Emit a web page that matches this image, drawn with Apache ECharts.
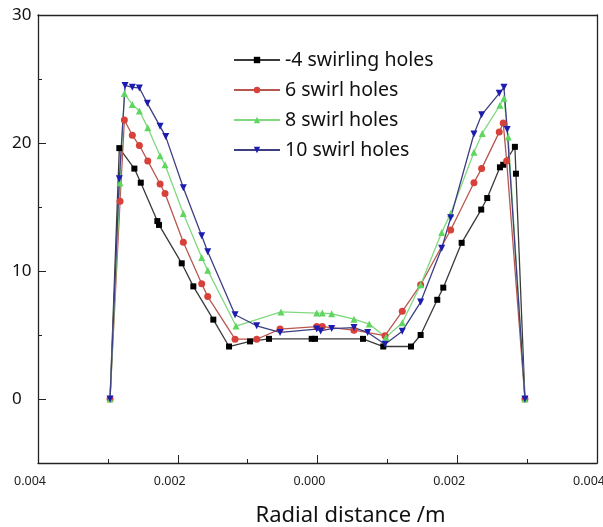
<!DOCTYPE html>
<html>
<head>
<meta charset="utf-8">
<script src="https://cdn.jsdelivr.net/npm/echarts@6/dist/echarts.min.js"></script>
<style>html,body{margin:0;padding:0;background:#fff}#c{width:603px;height:527px}</style>
</head>
<body>
<div id="c"></div>
<script>
// Radial distance (m) and values for each series
const seriesNames = ['-4 swirling holes', '6 swirl holes', '8 swirl holes', '10 swirl holes'];

const x4 = [-0.002969,-0.002836,-0.002621,-0.002529,-0.002292,-0.002268,-0.001943,-0.001777,-0.001491,-0.001266,-0.000966,-0.000694,-0.000083,-0.000036,0.000651,0.000941,0.001338,0.001476,0.001714,0.001800,0.002063,0.002343,0.002429,0.002611,0.002658,0.002825,0.002840,0.002969];
const y4 = [0,19.6,18.0,16.9,13.9,13.6,10.6,8.8,6.2,4.1,4.5,4.7,4.7,4.7,4.7,4.1,4.1,5.0,7.75,8.7,12.2,14.8,15.7,18.1,18.3,19.7,17.6,0];

const x6 = [-0.002969,-0.002826,-0.002764,-0.002650,-0.002549,-0.002429,-0.002253,-0.002182,-0.001920,-0.001657,-0.001571,-0.001180,-0.000870,-0.000536,-0.000011,0.000069,0.000522,0.000966,0.001213,0.001476,0.001906,0.002239,0.002349,0.002601,0.002658,0.002707,0.002969];
const y6 = [0,15.45,21.8,20.6,19.8,18.6,16.8,16.05,12.24,9.0,8.0,4.67,4.67,5.46,5.66,5.66,5.38,4.95,6.85,8.93,13.2,16.9,18.0,20.85,21.56,18.6,0];

const x8 = [-0.002969,-0.002826,-0.002764,-0.002650,-0.002549,-0.002429,-0.002253,-0.002182,-0.001920,-0.001657,-0.001571,-0.001166,-0.000522,-0.000011,0.000069,0.000203,0.000522,0.000741,0.000980,0.001213,0.001476,0.001777,0.001906,0.002239,0.002358,0.002611,0.002668,0.002730,0.002969];
const y8 = [0,16.9,23.86,23.0,22.5,21.2,19.0,18.3,14.5,11.05,10.05,5.7,6.8,6.71,6.71,6.66,6.24,5.85,4.83,5.96,8.93,13.0,14.5,19.27,20.75,22.95,23.5,20.46,0];

const x10 = [-0.002969,-0.002836,-0.002754,-0.002650,-0.002549,-0.002435,-0.002253,-0.002172,-0.001920,-0.001657,-0.001571,-0.001180,-0.000870,-0.000536,-0.000011,0.000046,0.000203,0.000522,0.000718,0.000966,0.001213,0.001476,0.001777,0.001906,0.002239,0.002349,0.002601,0.002668,0.002715,0.002969];
const y10 = [0,17.2,24.5,24.35,24.3,23.1,21.3,20.5,16.5,12.75,11.5,6.58,5.72,5.2,5.46,5.32,5.5,5.58,5.2,4.28,5.3,7.57,11.77,14.16,20.7,22.2,23.88,24.35,21.05,0];

const yLabelValues = [0, 10, 20, 30];
const yMinorValues = [5, 15, 25];

function pairs(xs, ys) { return xs.map((x, i) => [x, ys[i]]); }

const chart = echarts.init(document.getElementById('c'), null, { renderer: 'canvas' });
const font = '"Noto Sans", "Open Sans", sans-serif';
const axisColor = '#222';

function mk(name, xs, ys, symbol, markerColor, lineColor, rotate) {
  return {
    name: name, type: 'line', data: pairs(xs, ys),
    symbol: symbol, symbolSize: symbol === 'rect' ? 6 : 7, symbolRotate: rotate || 0,
    showAllSymbol: true,
    itemStyle: { color: markerColor },
    lineStyle: { color: lineColor, width: 1.3 },
    emphasis: { disabled: true },
    animation: false
  };
}

chart.setOption({
  animation: false,
  grid: { left: 38, right: 6, top: 15, bottom: 64, containLabel: false, outerBoundsMode: 'none' },
  legend: {
    orient: 'vertical', left: 228, top: 45,
    itemWidth: 46, itemHeight: 8, itemGap: 10,
    textStyle: { fontFamily: font, fontSize: 19.5, color: '#111' },
    data: seriesNames
  },
  xAxis: [{
    type: 'value', min: -0.004, max: 0.004, interval: 0.002,
    name: 'Radial distance /m', nameLocation: 'middle', nameGap: 42,
    nameTextStyle: { fontFamily: font, fontSize: 22, color: '#111', padding: [0, 0, 0, 66] },
    axisLine: { show: true, onZero: false, lineStyle: { color: axisColor, width: 1.3 } },
    axisTick: { show: true, inside: true, length: 8, lineStyle: { color: axisColor } },
    minorTick: { show: true, splitNumber: 2, length: 4, lineStyle: { color: axisColor } },
    splitLine: { show: false },
    axisLabel: { fontFamily: font, fontSize: 12.5, color: '#222', margin: 12, padding: [0, 16, 0, 0],
      formatter: v => Math.abs(v).toFixed(3) }
  }, {
    type: 'value', position: 'top', min: -0.004, max: 0.004,
    axisLine: { show: true, onZero: false, lineStyle: { color: axisColor, width: 1.3 } },
    axisTick: { show: false }, axisLabel: { show: false }, splitLine: { show: false }
  }],
  yAxis: [{
    type: 'value', min: -5, max: 30, position: 'left',
    axisLine: { onZero: false, show: true, lineStyle: { color: axisColor, width: 1.3 } },
    axisTick: { show: true, inside: true, length: 8, customValues: yLabelValues, lineStyle: { color: axisColor } },
    splitLine: { show: false },
    axisLabel: { customValues: yLabelValues, fontFamily: font, fontSize: 17, color: '#111', align: 'left', margin: 26 }
  }, {
    type: 'value', min: -5, max: 30, position: 'left',
    axisLine: { show: false, onZero: false },
    axisTick: { show: true, inside: true, length: 4, customValues: yMinorValues, lineStyle: { color: axisColor } },
    axisLabel: { show: false }, splitLine: { show: false }
  }, {
    type: 'value', min: -5, max: 30, position: 'right',
    axisLine: { onZero: false, show: true, lineStyle: { color: axisColor, width: 1.3 } },
    axisTick: { show: false }, axisLabel: { show: false }, splitLine: { show: false }
  }],
  series: [
    mk(seriesNames[0], x4, y4, 'rect', '#000000', '#3a3a3a'),
    mk(seriesNames[1], x6, y6, 'circle', '#d8403a', '#b8574f'),
    mk(seriesNames[2], x8, y8, 'triangle', '#5fd65f', '#80d880'),
    mk(seriesNames[3], x10, y10, 'triangle', '#1c1cb0', '#3e3e82', 180)
  ]
});
</script>
</body>
</html>
